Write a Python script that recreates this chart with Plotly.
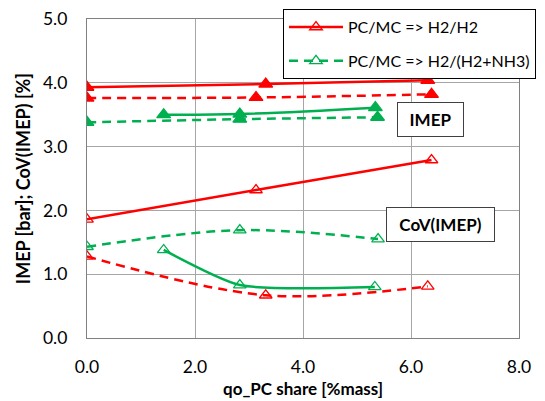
import plotly.graph_objects as go

# ---- data ----
x_red_imep_h2 = [0.0, 3.31, 6.31]
y_red_imep_h2 = [3.93, 3.98, 4.04]
x_red_imep_nh3 = [0.0, 3.13, 6.38]
y_red_imep_nh3 = [3.76, 3.77, 3.82]
x_grn_imep_h2 = [1.42, 2.83, 5.34]
y_grn_imep_h2 = [3.50, 3.51, 3.61]
x_grn_imep_nh3 = [0.0, 2.83, 5.38]
y_grn_imep_nh3 = [3.38, 3.43, 3.46]

x_red_cov_h2 = [0.0, 3.13, 6.38]
y_red_cov_h2 = [1.86, 2.32, 2.79]
x_red_cov_nh3 = [0.0, 3.31, 6.31]
y_red_cov_nh3 = [1.28, 0.67, 0.81]
x_grn_cov_h2 = [1.42, 2.83, 5.33]
y_grn_cov_h2 = [1.38, 0.83, 0.80]
x_grn_cov_nh3 = [0.0, 2.83, 5.39]
y_grn_cov_nh3 = [1.43, 1.69, 1.55]

legend_names = ["PC/MC => H2/H2", "PC/MC => H2/(H2+NH3)"]
x_title = "qo_PC share [%mass]"
y_title = "IMEP [bar]; CoV(IMEP) [%]"

RED = "#FF0000"
GREEN = "#00B050"
FONT = "Lato"
DASH = "9px,6px"

fig = go.Figure()

def add(x, y, color, dash, filled, name=None, show=False, group=None, smoothing=1.0):
    fig.add_trace(go.Scatter(
        x=x, y=y, mode="lines+markers",
        line=dict(color=color, width=2.5, dash=dash, shape="spline", smoothing=smoothing),
        marker=dict(symbol="triangle-up" if filled else "triangle-up-open",
                    size=12 if filled else 11, color=color,
                    line=dict(color=color, width=1.3)),
        name=name, showlegend=show, legendgroup=group,
    ))

# IMEP (filled markers)
add(x_red_imep_h2, y_red_imep_h2, RED, "solid", True)
add(x_red_imep_nh3, y_red_imep_nh3, RED, DASH, True)
add(x_grn_imep_h2, y_grn_imep_h2, GREEN, "solid", True)
add(x_grn_imep_nh3, y_grn_imep_nh3, GREEN, DASH, True)
# CoV (open markers)
add(x_red_cov_nh3, y_red_cov_nh3, RED, DASH, False)
add(x_grn_cov_h2, y_grn_cov_h2, GREEN, "solid", False, smoothing=0.6)
add(x_red_cov_h2, y_red_cov_h2, RED, "solid", False, legend_names[0], True, "a")
add(x_grn_cov_nh3, y_grn_cov_nh3, GREEN, DASH, False, legend_names[1], True, "b")

fig.add_annotation(x=6.36, y=3.43, text="<b>IMEP</b>", showarrow=False,
                   width=65, height=33, bordercolor="#404040", borderwidth=1,
                   borderpad=0, bgcolor="white", font=dict(family=FONT, size=17, color="black"))
fig.add_annotation(x=6.54, y=1.78, text="<b>CoV(IMEP)</b>", showarrow=False,
                   width=107, height=33, bordercolor="#404040", borderwidth=1,
                   borderpad=0, bgcolor="white", font=dict(family=FONT, size=17, color="black"))

# axis titles (placed as paper annotations for exact position)
fig.add_annotation(x=0.5, y=-0.157, xref="paper", yref="paper", text="<b>" + x_title + "</b>",
                   showarrow=False, xanchor="center", yanchor="middle", borderpad=0,
                   font=dict(family=FONT, size=17, color="black"))
fig.add_annotation(x=-0.149, y=0.5, xref="paper", yref="paper", text="<b>" + y_title + "</b>",
                   showarrow=False, xanchor="center", yanchor="middle", textangle=-90,
                   font=dict(family=FONT, size=18, color="black"))

axis_common = dict(showgrid=True, gridcolor="#A6A6A6", gridwidth=1,
                   showline=True, linecolor="#808080", linewidth=1.3, mirror=True,
                   ticks="", zeroline=False, tickformat=".1f",
                   tickfont=dict(family=FONT, size=17.5, color="black"))

fig.update_xaxes(range=[0, 8], dtick=2, tick0=0,
                 ticklabelstandoff=13, **axis_common)
fig.update_yaxes(range=[0, 5], dtick=1, tick0=0,
                 ticklabelstandoff=15, **axis_common)

fig.update_layout(
    width=545, height=401,
    margin=dict(l=87, r=26, t=19, b=63, autoexpand=False),
    paper_bgcolor="white", plot_bgcolor="white",
    font=dict(family=FONT, size=16, color="black"),
    legend=dict(x=0.4537, y=1.031, xanchor="left", yanchor="top",
                bgcolor="white", bordercolor="black", borderwidth=1,
                font=dict(family=FONT, size=16, color="black"),
                traceorder="grouped", tracegroupgap=10, itemwidth=54),
)

fig.write_html("out.html")
